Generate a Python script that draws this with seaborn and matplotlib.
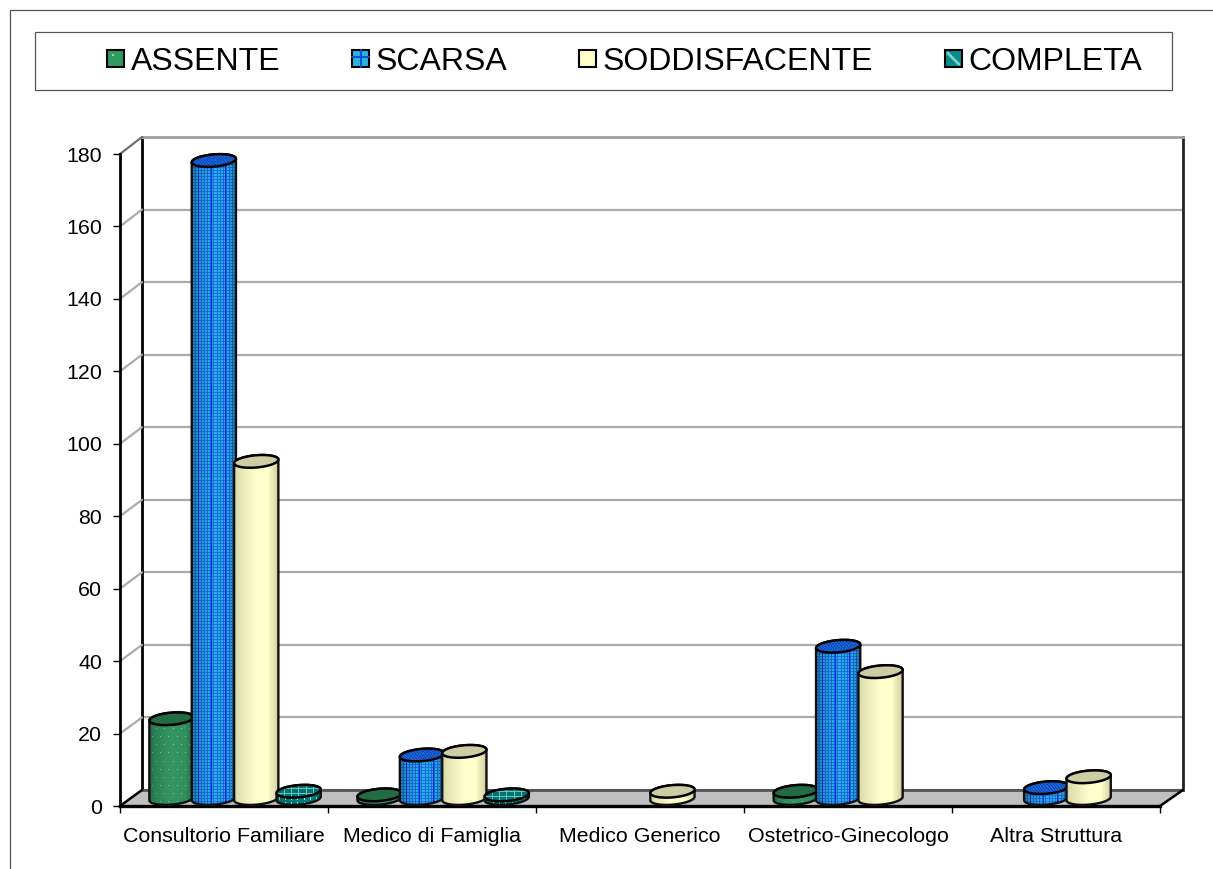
import numpy as np
import pandas as pd
import matplotlib
matplotlib.use("Agg")
import matplotlib.pyplot as plt
import seaborn as sns
from matplotlib.lines import Line2D
from matplotlib.patches import Patch, PathPatch, Polygon, Rectangle
from matplotlib.path import Path
from matplotlib.transforms import IdentityTransform
from matplotlib.legend_handler import HandlerBase

categories = ["Consultorio Familiare", "Medico di Famiglia", "Medico Generico",
              "Ostetrico-Ginecologo", "Altra Struttura"]
series_names = ["ASSENTE", "SCARSA", "SODDISFACENTE", "COMPLETA"]
assente = [22, 1, 0, 2, 0]
scarsa = [176, 12, 0, 42, 3]
soddisfacente = [93, 13, 2, 35, 6]
completa = [2, 1, 0, 0, 0]
y_ticks = list(range(0, 181, 20))

W, H = 1213, 869
base_colors = {"ASSENTE": "#2E8B57", "SCARSA": "#0A50D2",
               "SODDISFACENTE": "#FFFFCC", "COMPLETA": "#008080"}

df = pd.DataFrame({
    "categoria": categories * 4,
    "serie": np.repeat(series_names, len(categories)),
    "valore": assente + scarsa + soddisfacente + completa,
})

sns.set_theme(style="white")
plt.rcParams["font.family"] = ["Liberation Sans", "DejaVu Sans"]

fig = plt.figure(figsize=((W + 0.01) / 100, (H + 0.01) / 100), dpi=100, facecolor="white")


def px_axes(left, top, right, bottom, z):
    ax = fig.add_axes([left / W, 1 - bottom / H, (right - left) / W, (bottom - top) / H])
    ax.set_zorder(z)
    ax.patch.set_alpha(0)
    ax.set_xlim(-0.5, 4.5)
    ax.set_ylim(0, 180)
    return ax


ax_back = px_axes(142, 137, 1183, 790, 1)
ax_front = px_axes(120, 154, 1160, 806, 2)
ax_mid = px_axes(131, 146, 1171.5, 798.5, 3)

# back wall
ax_back.set_xticks([])
ax_back.set_yticks(y_ticks)
ax_back.set_yticklabels([])
ax_back.tick_params(left=False)
ax_back.grid(axis="y", color="#ABABAB", lw=1.6)
ax_back.set_axisbelow(True)
for side, col, lw in [("left", "black", 2.0), ("right", "#222222", 2.0),
                      ("top", "#A0A0A0", 2.0), ("bottom", "#555555", 2.0)]:
    ax_back.spines[side].set_color(col)
    ax_back.spines[side].set_linewidth(lw)

# front axis
ax_front.set_yticks(y_ticks)
ax_front.set_xticks(range(5))
ax_front.set_xticklabels(categories, fontsize=15.4, color="black")
ax_front.set_xticks(np.arange(-0.5, 5, 1), minor=True)
ax_front.tick_params(axis="x", which="major", length=0, pad=15)
ax_front.tick_params(axis="x", which="minor", length=5, width=1, color="black", bottom=True)
ax_front.tick_params(axis="y", length=5, width=1, color="black", left=True, labelsize=15.4,
                     pad=8, labelcolor="black")
for side in ["top", "right"]:
    ax_front.spines[side].set_visible(False)
ax_front.spines["left"].set_color("black")
ax_front.spines["left"].set_linewidth(2.0)
ax_front.spines["bottom"].set_color("black")
ax_front.spines["bottom"].set_linewidth(2.4)

# side wall and floor joined through the two scales
fig.canvas.draw()


def link(v_x, v_y):
    return (ax_front.transData.transform((v_x, v_y)), ax_back.transData.transform((v_x, v_y)))


for v in y_ticks[1:]:
    a, b = link(-0.5, v)
    fig.add_artist(Line2D([a[0], b[0]], [a[1], b[1]], transform=IdentityTransform(),
                          color="#ABABAB" if v < 180 else "#707070", lw=1.6, zorder=1.5))
fl, bl = link(-0.5, 0)
fr, br = link(4.5, 0)
fig.add_artist(Polygon([fl, bl, br, fr], closed=True, transform=IdentityTransform(),
                       facecolor="#C0C0C0", edgecolor="none", zorder=1.6))
fig.add_artist(Line2D([bl[0], br[0]], [bl[1], br[1]], transform=IdentityTransform(),
                      color="#555555", lw=2.0, zorder=1.7))
for a, b in [(fl, bl), (fr, br)]:
    fig.add_artist(Line2D([a[0], b[0]], [a[1], b[1]], transform=IdentityTransform(),
                          color="black", lw=1.8, zorder=1.7))

# bars
sns.barplot(data=df, x="categoria", y="valore", hue="serie", order=categories,
            hue_order=series_names, palette=base_colors, width=0.815, gap=0,
            dodge=True, legend=False, ax=ax_mid, saturation=1, linewidth=0)
ax_mid.set_xlim(-0.5, 4.5)
ax_mid.set_ylim(0, 180)
ax_mid.set_autoscale_on(False)
ax_mid.axis("off")
for c in ax_mid.containers:
    for r in c:
        r.set_clip_on(False)


def shading(u):
    return np.interp(u, [0, 0.12, 0.5, 0.8, 1], [0.68, 0.85, 1.0, 0.96, 0.68])


def texture(name, h, w, top=False):
    h, w = max(int(h), 2), max(int(w), 2)
    yy, xx = np.mgrid[0:h, 0:w]
    u = (xx + 0.5) / w
    if name == "SCARSA":
        img = np.zeros((h, w, 3)) + np.array([40, 180, 232]) / 255
        if top:
            img[:] = np.array([25, 100, 215]) / 255
            img[(xx + yy) % 3 == 0] = np.array([12, 65, 175]) / 255
            return img
        img[(yy % 3) == 0] = np.array([28, 115, 228]) / 255
        img[(xx % 3) == 0] = np.array([24, 105, 228]) / 255
        img[(xx % 13) == 6] = np.array([0, 40, 225]) / 255
        f = shading(u)
        return np.clip(img * f[..., None], 0, 1)
    if name == "ASSENTE":
        img = np.zeros((h, w, 3)) + np.array([52, 150, 98]) / 255
        if top:
            return np.array([46, 139, 87]) / 255 * 0.78 * np.ones((h, w, 3))
        mask = ((yy % 16 == 3) & (xx % 8 == 3)) | ((yy % 16 == 11) & (xx % 8 == 7))
        img[mask] = np.array([165, 195, 125]) / 255
        return np.clip(img * shading(u)[..., None], 0, 1)
    if name == "SODDISFACENTE":
        if top:
            return np.array([205, 205, 165]) / 255 * np.ones((h, w, 3))
        t = np.interp(u, [0, 0.5, 0.75, 1], [0.3, 1, 1, 0.05])[..., None]
        dark = np.array([200, 200, 155]) / 255
        lite = np.array([255, 255, 204]) / 255
        return dark + (lite - dark) * t
    img = np.zeros((h, w, 3)) + np.array([0, 128, 128]) / 255
    if top:
        img = img * 0.9
        img[(xx % 7 == 0) | (yy % 4 == 0)] = np.array([110, 190, 185]) / 255
        return img
    img[(xx % 6 == 2) & (yy % 5 < 3)] = np.array([190, 230, 225]) / 255
    return np.clip(img * shading(u)[..., None], 0, 1)


A_PX, B_PX, TILT = 22.2, 6.1, np.deg2rad(5.0)


def arc(cx, cy, t):
    px = A_PX * np.cos(t)
    py = B_PX * np.sin(t)
    return np.column_stack([cx + px * np.cos(TILT) - py * np.sin(TILT),
                            cy + px * np.sin(TILT) + py * np.cos(TILT)])


def draw_image(name, path, top, z):
    bb = path.get_extents()
    im = ax_mid.imshow(texture(name, bb.height, bb.width, top), origin="lower", aspect="auto",
                       interpolation="nearest", transform=IdentityTransform(),
                       extent=(bb.x0, bb.x1, bb.y0, bb.y1), zorder=z)
    im.set_clip_on(True)
    im.set_clip_box(fig.bbox)
    im.set_clip_path(PathPatch(path, transform=IdentityTransform()))


z = 5.0
for name, cont in zip(series_names, ax_mid.containers):
    for r in cont:
        val = r.get_height()
        if not val or val <= 0:
            continue
        xc = r.get_x() + r.get_width() / 2
        cx, cy0 = ax_mid.transData.transform((xc, 0))
        _, cy1 = ax_mid.transData.transform((xc, val))
        upper = arc(cx, cy1, np.linspace(np.pi, 0, 60))
        lower = arc(cx, cy0, np.linspace(0, -np.pi, 60))
        body = Path(np.vstack([upper, lower, upper[:1]]), closed=True)
        top = arc(cx, cy1, np.linspace(0, 2 * np.pi, 120))
        top_path = Path(np.vstack([top, top[:1]]), closed=True)
        draw_image(name, body, False, z)
        ax_mid.add_patch(PathPatch(body, transform=IdentityTransform(), fill=False,
                                   edgecolor="#101010", lw=1.7, zorder=z + 0.01,
                                   clip_on=False))
        draw_image(name, top_path, True, z + 0.02)
        ax_mid.add_patch(PathPatch(top_path, transform=IdentityTransform(), fill=False,
                                   edgecolor="black", lw=1.8, zorder=z + 0.03,
                                   clip_on=False))
        z += 0.1


# legend
class Swatch(HandlerBase):
    def create_artists(self, legend, orig, xd, yd, width, height, fontsize, trans):
        side = 12.2
        x0 = -xd + (width - side) / 2
        y0 = -yd + (height - side) / 2
        rect = Rectangle((x0, y0), side, side, facecolor=orig.get_facecolor(),
                         edgecolor="black", lw=1.5, transform=trans)
        extras = [rect]
        label = orig.get_label()
        if label == "SCARSA":
            extras.append(Line2D([x0 + side * 0.5] * 2, [y0, y0 + side], color="#0A50D2",
                                 lw=1.5, transform=trans))
            extras.append(Line2D([x0, x0 + side], [y0 + side * 0.6] * 2, color="#0A50D2",
                                 lw=1.5, transform=trans))
        elif label == "ASSENTE":
            extras.append(Line2D([x0 + side * 0.3], [y0 + side * 0.72], marker="s", ms=2,
                                 mew=0, color="#B0C890", transform=trans))
        elif label == "COMPLETA":
            extras.append(Line2D([x0 + 2, x0 + side - 2], [y0 + side - 2, y0 + 2],
                                 color="#7FD0CC", lw=2, transform=trans))
        return extras


fig.add_artist(Rectangle((34.5, H - 89.5), 1137, 58, transform=IdentityTransform(),
                         facecolor="white", edgecolor="#555555", lw=0.9, zorder=5.5))
handle_colors = {"ASSENTE": "#2E9B62", "SCARSA": "#28B4DC",
                 "SODDISFACENTE": "#FFFFCC", "COMPLETA": "#0A8C8C"}
handles = [Patch(facecolor=handle_colors[n], label=n) for n in series_names]
leg = fig.legend(handles=handles, labels=series_names, ncol=4, loc="center left",
                 bbox_to_anchor=(106 / W, 1 - 62 / H), fontsize=23.0,
                 handler_map={Patch: Swatch()}, frameon=False,
                 handlelength=0.62, handleheight=0.6, handletextpad=0.15,
                 columnspacing=2.21, borderpad=0, borderaxespad=0, labelcolor="black")
leg.set_zorder(6)

# outer chart frame, cut by the image edge
fig.add_artist(Line2D([9.5, 9.5, W + 5], [-5, H - 10, H - 10], transform=IdentityTransform(),
                      color="#555555", lw=0.9, zorder=0.5))

fig.savefig("out.png", dpi=100)
